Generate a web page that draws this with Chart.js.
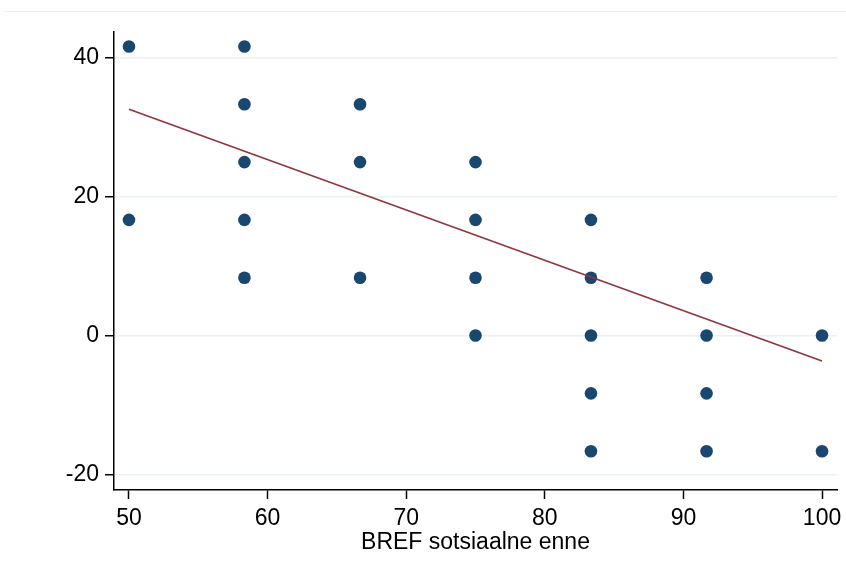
<!DOCTYPE html>
<html lang="et">
  <head>
    <meta charset="UTF-8" />
    <title>BREF sotsiaalne enne</title>
    <script src="https://cdn.jsdelivr.net/npm/chart.js"></script>
    <style>
      html,
      body {
        margin: 0;
        padding: 0;
        background: #ffffff;
      }
      #wrap {
        width: 846px;
        height: 571px;
      }
    </style>
  </head>
  <body>
    <div id="wrap">
      <canvas id="scatterChart" width="846" height="571"></canvas>
    </div>

    <script>
      // observed pairs (x = BREF sotsiaalne enne)
      const pointX = [
        50, 50,
        58.33, 58.33, 58.33, 58.33, 58.33,
        66.67, 66.67, 66.67,
        75, 75, 75, 75,
        83.33, 83.33, 83.33, 83.33, 83.33,
        91.67, 91.67, 91.67, 91.67,
        100, 100,
      ];
      const pointY = [
        41.67, 16.67,
        41.67, 33.33, 25, 16.67, 8.33,
        33.33, 25, 8.33,
        25, 16.67, 8.33, 0,
        16.67, 8.33, 0, -8.33, -16.67,
        8.33, 0, -8.33, -16.67,
        0, -16.67,
      ];

      // fitted line end points
      const fitX = [50, 100];
      const fitY = [32.6, -3.65];

      const xTicks = [50, 60, 70, 80, 90, 100];
      const yTicks = [-20, 0, 20, 40];
      const xTitle = "BREF sotsiaalne enne";

      const navy = "#1a476f";
      const maroon = "#90353b";
      const gridColor = "#eaf1f3";
      const fontFamily = "'Liberation Sans', Arial, Helvetica, sans-serif";

      // faint outer frame line along the top
      const frameLine = {
        id: "frameLine",
        beforeDraw(chart) {
          const ctx = chart.ctx;
          ctx.save();
          ctx.strokeStyle = "#eef2f4";
          ctx.lineWidth = 1;
          ctx.beginPath();
          ctx.moveTo(4, 11.5);
          ctx.lineTo(846, 11.5);
          ctx.stroke();
          ctx.restore();
        },
      };

      const ctx = document.getElementById("scatterChart").getContext("2d");
      new Chart(ctx, {
        type: "scatter",
        data: {
          datasets: [
            {
              type: "line",
              label: "Fitted values",
              data: fitX.map((x, i) => ({ x: x, y: fitY[i] })),
              borderColor: maroon,
              borderWidth: 1.6,
              pointRadius: 0,
              fill: false,
              order: 0,
            },
            {
              label: "obs",
              data: pointX.map((x, i) => ({ x: x, y: pointY[i] })),
              backgroundColor: navy,
              borderColor: navy,
              borderWidth: 0,
              pointRadius: 6.3,
              pointHoverRadius: 6.3,
              order: 1,
              clip: false,
            },
          ],
        },
        options: {
          responsive: false,
          animation: false,
          devicePixelRatio: 1,
          layout: {
            padding: { left: 0, top: 32, right: 9, bottom: 0 },
          },
          plugins: {
            legend: { display: false },
            tooltip: { enabled: false },
          },
          scales: {
            x: {
              type: "linear",
              min: 48.92,
              max: 101.08,
              afterBuildTicks: (scale) => {
                scale.ticks = xTicks.map((v) => ({ value: v }));
              },
              afterFit: (scale) => {
                scale.height = 81;
                // labels may overhang the plot edges
                scale.paddingLeft = 0;
                scale.paddingRight = 0;
              },
              border: { display: true, color: "#000000", width: 1.5 },
              grid: {
                drawOnChartArea: false,
                drawTicks: true,
                tickLength: 9,
                tickColor: "#000000",
                tickWidth: 1.5,
              },
              ticks: {
                color: "#000000",
                padding: 6,
                maxRotation: 0,
                font: { family: fontFamily, size: 23 },
              },
              title: {
                display: true,
                text: xTitle,
                color: "#000000",
                padding: { top: 0, bottom: 15 },
                font: { family: fontFamily, size: 23 },
              },
            },
            y: {
              type: "linear",
              min: -22.26,
              max: 43.75,
              afterBuildTicks: (scale) => {
                scale.ticks = yTicks.map((v) => ({ value: v }));
              },
              afterFit: (scale) => {
                scale.width = 114;
                scale.paddingTop = 0;
                scale.paddingBottom = 0;
              },
              border: { display: true, color: "#000000", width: 1.5 },
              grid: {
                color: gridColor,
                lineWidth: 1.5,
                drawTicks: true,
                tickLength: 9,
                tickColor: "#000000",
                tickWidth: 1.5,
              },
              ticks: {
                color: "#000000",
                padding: 6,
                font: { family: fontFamily, size: 23 },
              },
            },
          },
        },
        plugins: [frameLine],
      });
    </script>
  </body>
</html>
